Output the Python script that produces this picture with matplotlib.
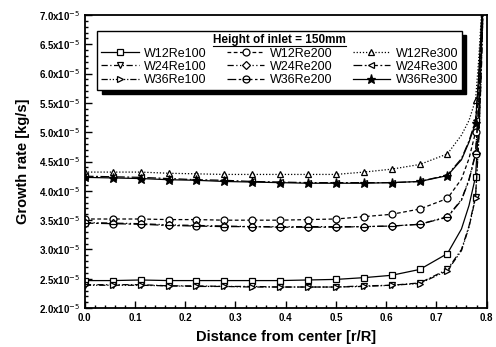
import matplotlib
matplotlib.use('Agg')
import matplotlib.pyplot as plt
from matplotlib.path import Path
from matplotlib.lines import Line2D
from matplotlib.ticker import MultipleLocator, FuncFormatter

plt.rcParams['font.family'] = ['Liberation Sans', 'DejaVu Sans']

# radial positions (markers on the first 14 points and on 0.778)
r = [0.0, 0.056, 0.111, 0.167, 0.222, 0.278, 0.333, 0.389, 0.444, 0.5,
     0.556, 0.611, 0.667, 0.722, 0.75, 0.765, 0.778, 0.784, 0.789, 0.794]
mark_idx = list(range(14)) + [16]

# growth rate, x1e-5 kg/s
w12re100 = [2.47, 2.47, 2.48, 2.47, 2.47, 2.47, 2.47, 2.47, 2.48, 2.49,
            2.52, 2.56, 2.66, 2.93, 3.35, 3.75, 4.24, 5.1, 6.2, 7.5]
w12re200 = [3.52, 3.52, 3.52, 3.51, 3.51, 3.50, 3.50, 3.50, 3.51, 3.52,
            3.56, 3.60, 3.69, 3.87, 4.2, 4.55, 5.0, 5.7, 6.6, 7.7]
w12re300 = [4.32, 4.32, 4.32, 4.30, 4.29, 4.28, 4.28, 4.28, 4.28, 4.28,
            4.32, 4.37, 4.45, 4.63, 4.95, 5.2, 5.55, 6.2, 6.9, 7.8]
w24re100 = [2.40, 2.40, 2.40, 2.38, 2.38, 2.37, 2.37, 2.36, 2.36, 2.36,
            2.38, 2.39, 2.43, 2.66, 3.0, 3.4, 3.90, 4.8, 5.9, 7.4]
w24re200 = [3.46, 3.45, 3.44, 3.42, 3.41, 3.40, 3.39, 3.39, 3.39, 3.39,
            3.39, 3.40, 3.43, 3.56, 3.85, 4.2, 4.64, 5.4, 6.4, 7.6]
w24re300 = [4.25, 4.24, 4.23, 4.21, 4.19, 4.18, 4.16, 4.15, 4.14, 4.14,
            4.14, 4.14, 4.16, 4.27, 4.55, 4.85, 5.2, 5.9, 6.7, 7.7]
w36re100 = [2.39, 2.39, 2.39, 2.38, 2.37, 2.37, 2.36, 2.36, 2.36, 2.36,
            2.37, 2.39, 2.42, 2.64, 2.98, 3.38, 3.88, 4.8, 5.9, 7.4]
w36re200 = [3.45, 3.44, 3.43, 3.41, 3.40, 3.39, 3.39, 3.38, 3.38, 3.38,
            3.39, 3.40, 3.43, 3.55, 3.84, 4.18, 4.62, 5.4, 6.4, 7.6]
w36re300 = [4.23, 4.22, 4.21, 4.19, 4.18, 4.16, 4.15, 4.14, 4.13, 4.13,
            4.13, 4.14, 4.16, 4.26, 4.53, 4.83, 5.15, 5.9, 6.7, 7.7]

# circle with a bar through it
circ_bar = Path.make_compound_path(
    Path.unit_circle(),
    Path([(-1, 0), (1, 0)], [Path.MOVETO, Path.LINETO]))

# listed column by column so the legend reads row-wise
series = [
    ('W12Re100', w12re100, '-', 's'),
    ('W24Re100', w24re100, (0, (5, 2, 1, 2)), 'v'),
    ('W36Re100', w36re100, (0, (5, 1.5, 1, 1.5, 1, 1.5)), '>'),
    ('W12Re200', w12re200, (0, (3, 2)), 'o'),
    ('W24Re200', w24re200, (0, (5, 2, 1, 2, 1, 2)), 'D'),
    ('W36Re200', w36re200, (0, (7, 2, 2, 2)), circ_bar),
    ('W12Re300', w12re300, (0, (1, 1.5)), '^'),
    ('W24Re300', w24re300, (0, (7, 2, 1.5, 2)), '<'),
    ('W36Re300', w36re300, '-', '*'),
]

fig = plt.figure(figsize=(4.96, 3.47), dpi=100)
ax = fig.add_axes([0.171, 0.112, 0.81, 0.845])

for name, vals, ls, mk in series:
    filled = (name == 'W36Re300')
    ms = 6.5 if mk == '*' else (4.2 if mk == 'D' else 5)
    ax.plot(r, [v * 1e-5 for v in vals], color='black', lw=0.9, ls=ls,
            marker=mk, markevery=mark_idx, ms=ms, mew=0.9,
            mfc='black' if filled else 'white', mec='black', label=name)

ax.set_xlim(0.0, 0.8)
ax.set_ylim(2.0e-5, 7.0e-5)
ax.xaxis.set_major_locator(MultipleLocator(0.1))
ax.xaxis.set_minor_locator(MultipleLocator(0.02))
ax.yaxis.set_major_locator(MultipleLocator(0.5e-5))
ax.yaxis.set_minor_locator(MultipleLocator(0.1e-5))
ax.xaxis.set_major_formatter(FuncFormatter(lambda v, p: f'{v:.1f}'))
ax.yaxis.set_major_formatter(
    FuncFormatter(lambda v, p: f'{v * 1e5:.1f}x10$^{{-5}}$'))
ax.tick_params(which='both', direction='in', top=False, right=False,
               labelsize=7, width=1.0)
ax.tick_params(which='major', length=5)
ax.tick_params(which='minor', length=2.5)
for lab in ax.get_xticklabels() + ax.get_yticklabels():
    lab.set_fontweight('bold')
for sp in ax.spines.values():
    sp.set_linewidth(1.3)

ax.set_xlabel('Distance from center [r/R]', fontsize=10.5, fontweight='bold',
              labelpad=5)
ax.set_ylabel('Growth rate [kg/s]', fontsize=10.5, fontweight='bold',
              labelpad=6)

leg = ax.legend(ncol=3, loc='upper center', bbox_to_anchor=(0.485, 0.968),
                title='Height of inlet = 150mm', fontsize=9,
                title_fontproperties={'weight': 'bold', 'size': 8.5},
                handlelength=3.0, handletextpad=0.45, columnspacing=1.6,
                labelspacing=0.1, borderpad=0.3, fancybox=False,
                edgecolor='black', framealpha=1,
                shadow={'color': 'black', 'alpha': 1, 'ox': 3, 'oy': -3})
leg.get_frame().set_linewidth(1.0)

# underline the legend title
fig.canvas.draw()
bb = leg.get_title().get_window_extent().transformed(fig.transFigure.inverted())
fig.add_artist(Line2D([bb.x0, bb.x1], [bb.y0 + 0.002, bb.y0 + 0.002],
                      color='black', lw=0.8, transform=fig.transFigure))

fig.savefig('out.png', dpi=100)
